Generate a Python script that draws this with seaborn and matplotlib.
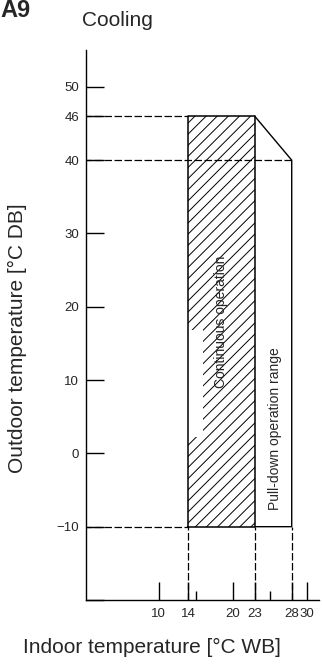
import matplotlib
matplotlib.use("Agg")
import matplotlib.pyplot as plt
import seaborn as sns

# operating range (cooling)
indoor_min, indoor_cont_max, indoor_pull_max = 14, 23, 28
outdoor_min, outdoor_pull_max, outdoor_cont_max = -10, 40, 46

pull_x = [23, 28, 28, 23]
pull_y = [46, 40, -10, -10]

y_ticks = [-20, -10, 0, 10, 20, 30, 40, 46, 50]
y_labels = ["", "−10", "0", "10", "20", "30", "40", "46", "50"]
x_ticks = [10, 14, 20, 23, 28, 30]
x_minor = [15, 25]

sns.set_theme(style="ticks")
plt.rcParams["font.family"] = ["Liberation Sans", "DejaVu Sans"]
plt.rcParams["hatch.linewidth"] = 0.7
narrow = ["Liberation Sans Narrow", "Liberation Sans", "DejaVu Sans"]

fig = plt.figure(figsize=(3.22, 6.64), dpi=100)
ax = fig.add_axes([0.267, 0.0964, 0.724, 0.828])
ax.set_xlim(0.2, 31.7)
ax.set_ylim(-20, 55)

# continuous operation (hatched)
ax.fill_between([indoor_min, indoor_cont_max], outdoor_min, outdoor_cont_max,
                facecolor="white", edgecolor="black", hatch="///", linewidth=0, zorder=1)
# blank patch left of the label
ax.fill_between([indoor_min, 16.0], 2.2, 16.8, color="white", linewidth=0, zorder=2)
ax.plot([indoor_min, indoor_cont_max, indoor_cont_max, indoor_min, indoor_min],
        [outdoor_min, outdoor_min, outdoor_cont_max, outdoor_cont_max, outdoor_min],
        color="black", lw=1.1, zorder=3)

# pull-down range
ax.plot(pull_x, pull_y, color="black", lw=1, zorder=3)

# dashed guides
dash = dict(color="black", lw=0.9, ls=(0, (6, 2)), zorder=3)
ax.plot([0, indoor_min], [outdoor_cont_max] * 2, **dash)
ax.plot([0, indoor_pull_max], [outdoor_pull_max] * 2, **dash)
ax.plot([0, indoor_min], [outdoor_min] * 2, **dash)
for xv in [indoor_min, indoor_cont_max, indoor_pull_max]:
    ax.plot([xv, xv], [-20, outdoor_min], **dash)

ax.text(18.4, 18, "Continuous operation", rotation=90, ha="center", va="center",
        fontsize=10, family=narrow, zorder=4)
ax.text(25.8, 3.4, "Pull-down operation range", rotation=90, ha="center", va="center",
        fontsize=10, family=narrow, zorder=4)

sns.despine(ax=ax)
for s in ["left", "bottom"]:
    ax.spines[s].set_linewidth(1)
    ax.spines[s].set_color("black")

ax.set_yticks(y_ticks)
ax.set_yticklabels(y_labels, family=narrow, fontsize=9.5)
ax.set_xticks(x_ticks)
ax.set_xticklabels([str(v) for v in x_ticks], family=narrow, fontsize=9.5)
ax.set_xticks(x_minor, minor=True)
ax.tick_params(axis="both", which="major", direction="in", length=13, width=1,
               color="black", pad=5)
ax.tick_params(axis="x", which="minor", direction="in", length=6.5, width=1, color="black")
ax.tick_params(axis="x", which="major", pad=6)

fig.text(0.053, 0.49, "Outdoor temperature [°C DB]", rotation=90, ha="center",
         va="center", fontsize=15)
fig.text(0.472, 0.0165, "Indoor temperature [°C WB]", ha="center", va="baseline",
         fontsize=15)
fig.text(0.255, 0.961, "Cooling", ha="left", va="baseline", fontsize=15)
fig.text(0.0, 0.9745, "A9", ha="left", va="baseline", fontsize=17, fontweight="bold")

fig.savefig("out.png", dpi=100, facecolor="white")
